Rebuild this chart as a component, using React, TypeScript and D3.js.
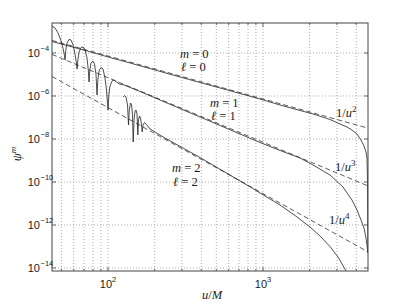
import React from 'react';
import * as d3 from 'd3';

const W = 407;
const H = 306;
const PLOT = { left: 52, top: 23, right: 368, bottom: 271 };

const uDomain: [number, number] = [43.5, 4760];
const psiDomain: [number, number] = [7.25e-15, 2.48e-3];

const xMajorTicks = [100, 1000];
const xMajorExps = ['2', '3'];
const xMinorTicks = [50, 60, 70, 80, 90, 200, 300, 400, 500, 600, 700, 800, 900, 2000, 3000, 4000];
const yTicks = [1e-14, 1e-12, 1e-10, 1e-8, 1e-6, 1e-4];
const yTickExps = ['\u221214', '\u221212', '\u221210', '\u22128', '\u22126', '\u22124'];

// m = 0, l = 0
const seriesM0: [number, number][] = [
  [43.5, 3.43e-4], [52.8, 2.36e-4], [63.1, 1.66e-4], [76.5, 1.14e-4], [100, 6.52e-5],
  [138.7, 3.43e-5], [291, 7.65e-6], [528, 2.36e-6], [956, 7.25e-7], [1288, 3.81e-7],
  [1733, 2.12e-7], [2102, 1.46e-7], [2706, 8.07e-8], [3140, 4.99e-8], [3483, 3.61e-8],
  [3751, 2.62e-8], [4042, 1.71e-8], [4290, 8.98e-9], [4484, 4.72e-9], [4619, 2.48e-9],
  [4688, 1.31e-9], [4720, 2.1e-10], [4755, 5.0e-14],
];

// m = 1, l = 1
const seriesM1: [number, number][] = [
  [43.5, 1.8e-3], [45.5, 1.46e-3], [47.6, 8.51e-4], [49.8, 3.61e-4], [51.2, 1.71e-4],
  [52.4, 7.25e-5], [52.8, 4.72e-5], [53.4, 1.38e-4], [54.4, 2.92e-4], [56.0, 4.25e-4],
  [57.7, 4.03e-4], [59.5, 2.36e-4], [61.2, 8.98e-5], [62.4, 3.81e-5], [63.1, 1.8e-5],
  [63.9, 4.72e-5], [65.0, 1.11e-4], [67.0, 1.8e-4], [69.0, 1.9e-4], [71.1, 1.38e-4],
  [73.2, 5.85e-5], [74.6, 1.62e-5], [75.4, 4.48e-6], [76.3, 1.62e-5], [77.7, 3.43e-5],
  [80.0, 4.25e-5], [81.8, 3.08e-5], [83.7, 9.48e-6], [84.9, 1.11e-6], [86.0, 5.55e-6],
  [87.5, 1.46e-5], [90.1, 2.12e-5], [92.8, 1.8e-5], [95.6, 6.87e-6], [97.8, 1.9e-6],
  [100, 2.23e-7], [101.2, 1.11e-6], [103.0, 2.92e-6], [106.1, 4.98e-6], [109.3, 5.55e-6],
  [112.6, 4.72e-6], [117.8, 3.61e-6], [126.9, 3.25e-6], [160.9, 1.62e-6], [291, 2.62e-7],
  [528, 4.25e-8], [956, 6.87e-9], [1288, 2.92e-9], [1733, 1.31e-9], [2102, 6.18e-10],
  [2706, 2.12e-10], [3282, 5.85e-11], [3751, 1.46e-11], [4042, 4.99e-12], [4290, 1.71e-12],
  [4484, 7.25e-13], [4619, 2.48e-13], [4688, 1.17e-13], [4755, 4.99e-14],
];

// m = 2, l = 2
const seriesM2: [number, number][] = [
  [125.0, 8.98e-7], [127.8, 1.05e-6], [130.7, 8.98e-7], [133.6, 3.81e-7], [135.6, 4.48e-8],
  [137.2, 2.23e-7], [139.7, 4.72e-7], [141.8, 4.03e-7], [143.9, 1.31e-7], [145.4, 7.25e-9],
  [147.2, 7.65e-8], [149.4, 2.0e-7], [151.6, 2.23e-7], [153.9, 1.46e-7], [155.7, 1.53e-8],
  [157.3, 7.65e-8], [159.7, 1.17e-7], [162.1, 9.48e-8], [164.5, 4.48e-8], [166.2, 2.12e-8],
  [168.2, 4.48e-8], [172.0, 5.85e-8], [177.2, 4.72e-8], [186.6, 2.92e-8], [233, 1.11e-8],
  [392, 1.38e-9], [849, 5.26e-11], [956, 3.08e-11], [1288, 8.51e-12], [1609, 2.77e-12],
  [2011, 8.07e-13], [2332, 3.08e-13], [2706, 1.0e-13], [3048, 3.25e-14], [3381, 8.98e-15],
  [3642, 3.43e-15],
];

// dashed reference tails (end points)
const tailU2: [number, number][] = [[43.5, 3.83e-4], [4760, 3.2e-8]];
const tailU3: [number, number][] = [[43.5, 8.6e-5], [4760, 6.57e-11]];
const tailU4: [number, number][] = [[43.5, 8.05e-6], [4760, 5.62e-14]];

const serif = "'Liberation Serif', 'DejaVu Serif', serif";
const sans = "'Liberation Sans', Arial, sans-serif";

export default function App() {
  const x = d3.scaleLog().domain(uDomain).range([PLOT.left, PLOT.right]);
  const y = d3.scaleLog().domain(psiDomain).range([PLOT.bottom, PLOT.top]);
  const line = d3
    .line<[number, number]>()
    .x((d) => x(d[0]))
    .y((d) => y(d[1]));

  const axisColor = '#444';
  const gridColor = '#9a9a9a';
  const textColor = '#1a1a1a';

  const mathLabel = (xx: number, yy: number, sym: string, val: string) => (
    <text x={xx} y={yy} fontFamily={serif} fontSize={12.5} fill={textColor}>
      <tspan fontStyle="italic">{sym}</tspan>
      <tspan> = {val}</tspan>
    </text>
  );

  const powLabel = (xx: number, yy: number, p: string) => (
    <text x={xx} y={yy} fontFamily={serif} fontSize={12.5} fill={textColor}>
      1/<tspan fontStyle="italic">u</tspan>
      <tspan dy={-5} fontSize={9}>{p}</tspan>
    </text>
  );

  return (
    <svg
      width={W}
      height={H}
      style={{ position: 'absolute', left: 0, top: 0, background: '#fff' }}
    >
      <defs>
        <clipPath id="plotClip">
          <rect x={PLOT.left} y={PLOT.top} width={PLOT.right - PLOT.left} height={PLOT.bottom - PLOT.top} />
        </clipPath>
      </defs>
      <rect x={0} y={0} width={W} height={H} fill="#fff" />

      {/* grid */}
      <g stroke={gridColor} strokeWidth={0.8} strokeDasharray="1,2">
        {[...xMinorTicks, ...xMajorTicks].map((t) => (
          <line key={'gx' + t} x1={x(t)} x2={x(t)} y1={PLOT.top} y2={PLOT.bottom} />
        ))}
        {yTicks.map((t) => (
          <line key={'gy' + t} x1={PLOT.left} x2={PLOT.right} y1={y(t)} y2={y(t)} />
        ))}
      </g>

      {/* curves */}
      <g clipPath="url(#plotClip)" fill="none">
        {[tailU2, tailU3, tailU4].map((s, i) => (
          <path key={'t' + i} d={line(s) || ''} stroke="#333" strokeWidth={0.8} strokeDasharray="5,3" />
        ))}
        {[seriesM0, seriesM1, seriesM2].map((s, i) => (
          <path key={'s' + i} d={line(s) || ''} stroke="#222" strokeWidth={0.8} />
        ))}
      </g>

      {/* axes box */}
      <rect
        x={PLOT.left}
        y={PLOT.top}
        width={PLOT.right - PLOT.left}
        height={PLOT.bottom - PLOT.top}
        fill="none"
        stroke={axisColor}
        strokeWidth={1}
      />

      {/* ticks */}
      <g stroke={axisColor} strokeWidth={0.8}>
        {xMajorTicks.map((t) => (
          <g key={'xt' + t}>
            <line x1={x(t)} x2={x(t)} y1={PLOT.bottom} y2={PLOT.bottom - 4} />
            <line x1={x(t)} x2={x(t)} y1={PLOT.top} y2={PLOT.top + 4} />
          </g>
        ))}
        {xMinorTicks.map((t) => (
          <g key={'xm' + t}>
            <line x1={x(t)} x2={x(t)} y1={PLOT.bottom} y2={PLOT.bottom - 2} />
            <line x1={x(t)} x2={x(t)} y1={PLOT.top} y2={PLOT.top + 2} />
          </g>
        ))}
        {yTicks.map((t) => (
          <g key={'yt' + t}>
            <line x1={PLOT.left} x2={PLOT.left + 4} y1={y(t)} y2={y(t)} />
            <line x1={PLOT.right} x2={PLOT.right - 4} y1={y(t)} y2={y(t)} />
          </g>
        ))}
      </g>

      {/* tick labels */}
      {yTicks.map((t, i) => (
        <g key={'yl' + t} fontFamily={sans} fill={textColor}>
          <text x={40} y={y(t) + 4} fontSize={11} textAnchor="end">10</text>
          <text x={40.5} y={y(t) - 2} fontSize={7.5}>{yTickExps[i]}</text>
        </g>
      ))}
      {xMajorTicks.map((t, i) => (
        <text key={'xl' + t} x={x(t)} y={288} fontFamily={sans} fontSize={11} fill={textColor} textAnchor="middle">
          10<tspan dy={-6} fontSize={7.5}>{xMajorExps[i]}</tspan>
        </text>
      ))}

      {/* axis labels */}
      <text x={212} y={299} fontFamily={serif} fontSize={12.5} fill={textColor} textAnchor="middle">
        <tspan fontStyle="italic">u</tspan>/<tspan fontStyle="italic">M</tspan>
      </text>
      <text
        transform="translate(21,154) rotate(-90)"
        fontFamily={serif}
        fontSize={13}
        fill={textColor}
        textAnchor="middle"
      >
        <tspan fontStyle="italic">{'\u03c8'}</tspan>
        <tspan dy={-5} fontSize={9} fontStyle="italic">m</tspan>
      </text>

      {/* curve labels */}
      {mathLabel(180, 58, 'm', '0')}
      {mathLabel(181, 71, '\u2113', '0')}
      {mathLabel(210, 107, 'm', '1')}
      {mathLabel(211, 120, '\u2113', '1')}
      {mathLabel(172, 172, 'm', '2')}
      {mathLabel(173, 186, '\u2113', '2')}

      {powLabel(336, 117, '2')}
      {powLabel(335, 171, '3')}
      {powLabel(329, 224, '4')}
    </svg>
  );
}
